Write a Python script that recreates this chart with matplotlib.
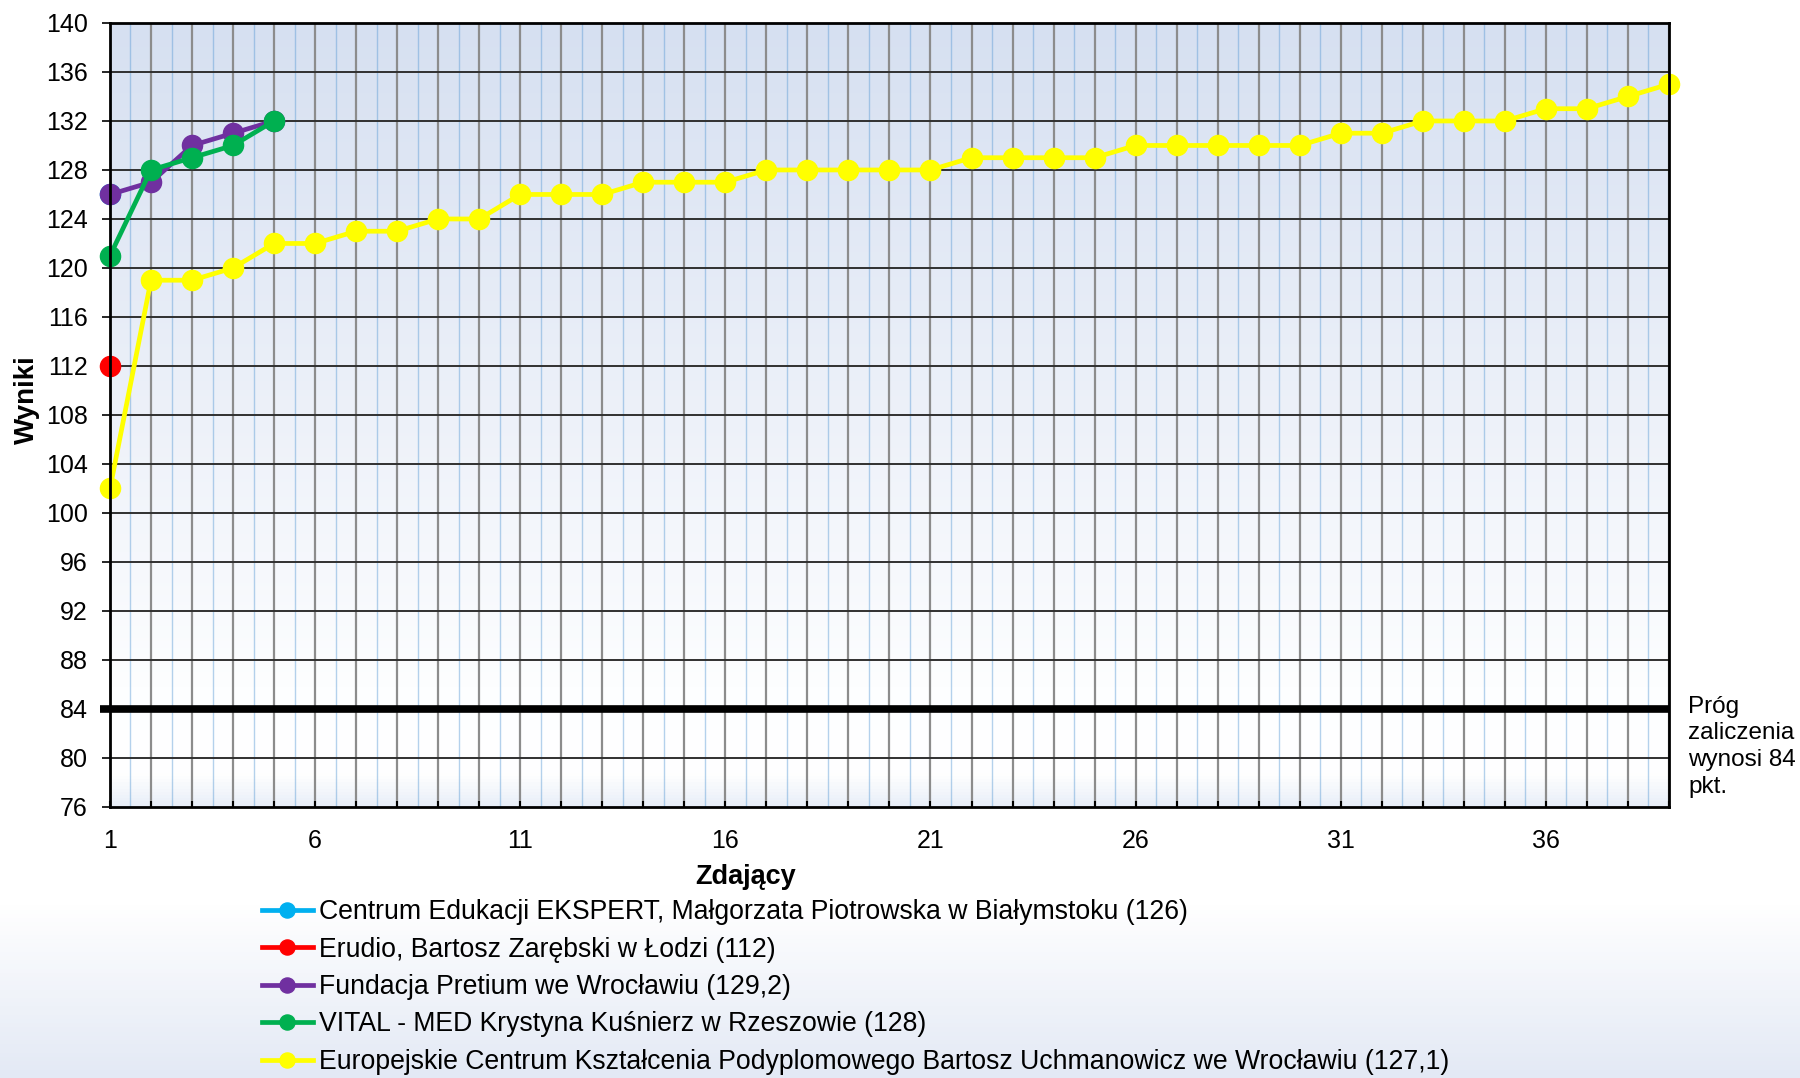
import numpy as np
import matplotlib
matplotlib.use('Agg')
import matplotlib.pyplot as plt
from matplotlib.colors import LinearSegmentedColormap

plt.rcParams['font.family'] = ['Liberation Sans', 'DejaVu Sans']

# Data
labels = [
    'Centrum Edukacji EKSPERT, Małgorzata Piotrowska w Białymstoku (126)',
    'Erudio, Bartosz Zarębski w Łodzi (112)',
    'Fundacja Pretium we Wrocławiu (129,2)',
    'VITAL - MED Krystyna Kuśnierz w Rzeszowie (128)',
    'Europejskie Centrum Kształcenia Podyplomowego Bartosz Uchmanowicz we Wrocławiu (127,1)',
]
colors = ['#00B0F0', '#FF0000', '#7030A0', '#00B050', '#FFFF00']

ekspert = [126]
erudio = [112]
pretium = [126, 127, 130, 131, 132]
vital = [121, 128, 129, 130, 132]
europejskie = [102, 119, 119, 120, 122, 122, 123, 123, 124, 124,
               126, 126, 126, 127, 127, 127, 128, 128, 128, 128,
               128, 129, 129, 129, 129, 130, 130, 130, 130, 130,
               131, 131, 132, 132, 132, 133, 133, 134, 135]
series = [ekspert, erudio, pretium, vital, europejskie]

threshold = 84
n_max = 39
y_ticks = list(range(76, 141, 4))
x_labels = list(range(1, n_max + 1, 5))

fig = plt.figure(figsize=(18, 10.78), dpi=100)

# figure background: white fading to light blue at the bottom
bg = fig.add_axes([0, 0, 1, 1], zorder=-10)
bg_cmap = LinearSegmentedColormap.from_list('bg', [(0, '#E3E9F5'), (0.16, '#FFFFFF'), (1, '#FFFFFF')])
bg.imshow(np.linspace(0, 1, 256).reshape(-1, 1), cmap=bg_cmap, aspect='auto',
          extent=[0, 1, 0, 1], origin='lower')
bg.axis('off')

ax = fig.add_axes([0.0611, 0.2514, 0.8661, 0.7273])

# plot area gradient
ax_cmap = LinearSegmentedColormap.from_list(
    'ax', [(0, '#E8EEF8'), (0.04, '#FFFFFF'), (0.15, '#FDFEFF'), (0.5, '#EDF1F9'), (1, '#D6E0F1')])
ax.imshow(np.linspace(0, 1, 256).reshape(-1, 1), cmap=ax_cmap, aspect='auto',
          extent=[0, 1, 0, 1], origin='lower', transform=ax.transAxes, zorder=0)

# grid lines
for x in range(1, n_max + 1):
    ax.axvline(x, color='#8C8C8C', lw=1.6, zorder=1)
for x in np.arange(1.5, n_max, 1):
    ax.axvline(x, color='#5B9BD5', lw=1.0, alpha=0.45, zorder=1)
for y in y_ticks[1:-1]:
    ax.axhline(y, color='#303030', lw=1.4, zorder=1)

# threshold line
ax.plot([0.75, n_max], [threshold, threshold], color='black', lw=5.5,
        solid_capstyle='butt', zorder=2, clip_on=False)

for vals, col, lab in zip(series, colors, labels):
    xs = np.arange(1, len(vals) + 1)
    ax.plot(xs, vals, color=col, lw=3.4, marker='o', markersize=14.5,
            label=lab, zorder=3, clip_on=False)

ax.set_xlim(1, n_max)
ax.set_ylim(76, 140)
ax.set_yticks(y_ticks)
ax.set_xticks(range(1, n_max + 1))
ax.set_xticklabels([str(x) if x in x_labels else '' for x in range(1, n_max + 1)])
ax.tick_params(axis='y', direction='out', length=6, width=1.2, pad=10, labelsize=18)
ax.tick_params(axis='x', direction='in', length=4, width=1.5, pad=15.5, labelsize=18)

for sp in ax.spines.values():
    sp.set_linewidth(2)
    sp.set_zorder(4)

ax.set_ylabel('Wyniki', fontsize=20, fontweight='bold')
ax.yaxis.set_label_coords(-0.045, 0.52)
ax.set_xlabel('Zdający', fontsize=19.5, fontweight='bold')
ax.xaxis.set_label_coords(0.408, -0.073)

ax.text(1.0125, 80.9, 'Próg\nzaliczenia\nwynosi 84\npkt.', transform=ax.get_yaxis_transform(),
        fontsize=17.5, va='center', ha='left', linespacing=1.29)

handles, hlabels = ax.get_legend_handles_labels()
fig.legend(handles, hlabels, loc='upper left', bbox_to_anchor=(0.1456, 0.166),
           frameon=False, fontsize=19.2, borderpad=0, borderaxespad=0,
           handlelength=1.9, handletextpad=0.22, labelspacing=0.43, markerscale=0.75)

fig.savefig('out.png', dpi=100)
